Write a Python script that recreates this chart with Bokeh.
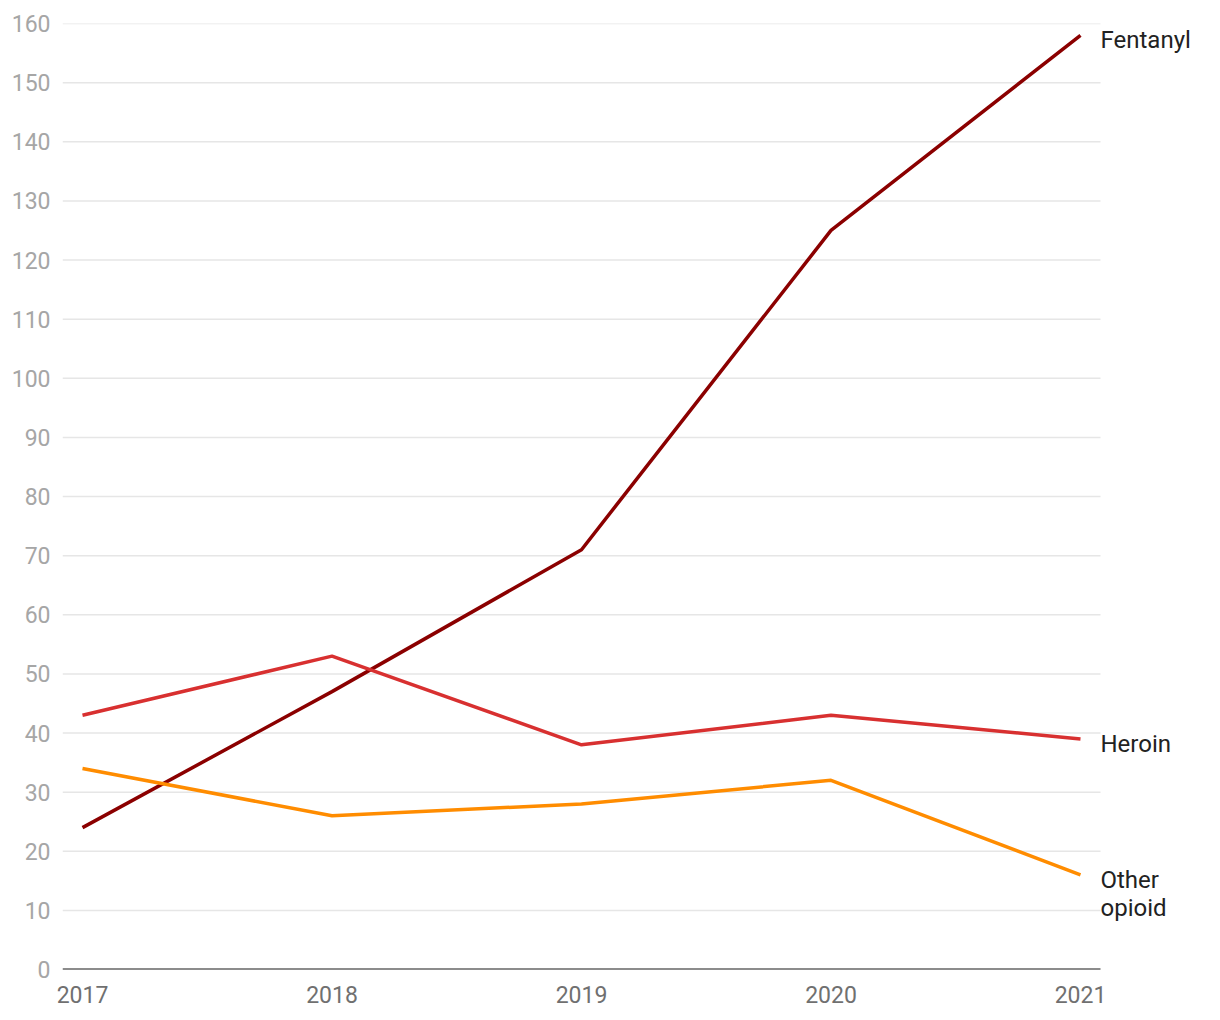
from bokeh.plotting import figure
from bokeh.models import FixedTicker, Label, Range1d
from bokeh.embed import file_html
from bokeh.resources import INLINE

years = [2017, 2018, 2019, 2020, 2021]
fentanyl = [24, 47, 71, 125, 158]
heroin = [43, 53, 38, 43, 39]
other = [34, 26, 28, 32, 16]
series_names = ["Fentanyl", "Heroin", "Other\nopioid"]
series_values = [fentanyl, heroin, other]
series_colors = ["#8b0000", "#d83030", "#ff8c00"]
y_ticks = list(range(0, 161, 10))

FONT = "Roboto"

# frame spans from x=62 to the right edge; grid ends 20px right of 2021
px_per_year = 249.5
x_left = years[0] - 20 / px_per_year
x_grid_right = years[-1] + 20 / px_per_year
x_right = years[-1] + 132 / px_per_year

p = figure(width=1212, height=1012, output_backend="svg", toolbar_location=None,
           x_range=Range1d(x_left, x_right), y_range=Range1d(0, 160),
           min_border_left=62, min_border_top=23, min_border_right=0, min_border_bottom=43)
p.outline_line_color = None
p.background_fill_color = "white"
p.xgrid.grid_line_color = None
p.ygrid.grid_line_color = None

# horizontal gridlines (not reaching the label area)
grid_vals = y_ticks[1:]
p.segment(x0=[x_left] * len(grid_vals), x1=[x_grid_right] * len(grid_vals),
          y0=grid_vals, y1=grid_vals, line_color="#e6e6e6", line_width=1.5)
# baseline
p.segment(x0=[x_left], x1=[x_grid_right], y0=[0], y1=[0], line_color="#1a1a1a", line_width=2)

for vals, col in zip(series_values, series_colors):
    p.line(years, vals, line_color=col, line_width=3.5)

for name, vals, col in zip(series_names, series_values, series_colors):
    multi = "\n" in name
    lab = Label(x=years[-1], y=vals[-1], text=name, x_offset=20,
                y_offset=9 if multi else -5,
                text_baseline="top" if multi else "middle",
                text_font=FONT, text_font_size="24px", text_color="#222222",
                text_line_height=1.0)
    p.add_layout(lab)

p.xaxis.ticker = FixedTicker(ticks=years)
p.yaxis.ticker = FixedTicker(ticks=y_ticks)

p.yaxis.axis_line_color = None
p.yaxis.major_tick_line_color = None
p.yaxis.minor_tick_line_color = None
p.yaxis.major_label_standoff = 6
p.yaxis.major_label_text_font = FONT
p.yaxis.major_label_text_font_size = "23px"
p.yaxis.major_label_text_color = "#a6a6a6"

p.xaxis.axis_line_color = None
p.xaxis.major_tick_line_color = None
p.xaxis.minor_tick_line_color = None
p.xaxis.major_label_standoff = 10
p.xaxis.major_label_text_font = FONT
p.xaxis.major_label_text_font_size = "23px"
p.xaxis.major_label_text_color = "#707070"

open("out.html", "w").write(file_html(p, INLINE))
